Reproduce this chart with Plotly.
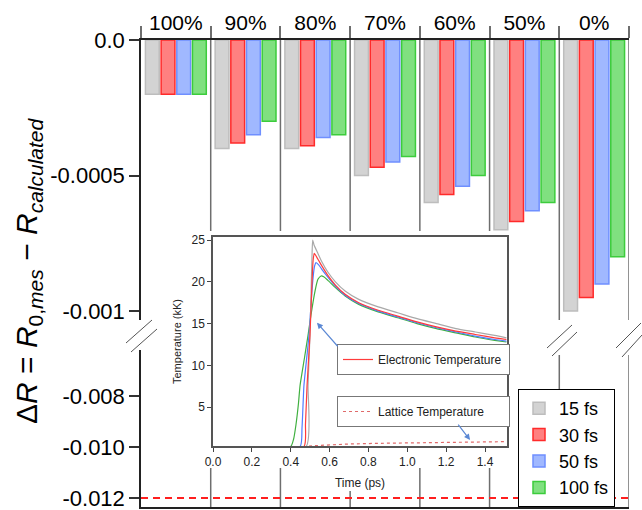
import plotly.graph_objects as go

# ---------------- data ----------------
categories = ["100%", "90%", "80%", "70%", "60%", "50%", "0%"]
pulse_labels = ["15 fs", "30 fs", "50 fs", "100 fs"]

dR_15fs = [-0.00020, -0.00040, -0.00040, -0.00050, -0.00060, -0.00070, -0.00100]
dR_30fs = [-0.00020, -0.00038, -0.00039, -0.00047, -0.00057, -0.00067, -0.00095]
dR_50fs = [-0.00020, -0.00035, -0.00036, -0.00045, -0.00054, -0.00063, -0.00090]
dR_100fs = [-0.00020, -0.00030, -0.00035, -0.00043, -0.00050, -0.00060, -0.00080]

threshold_dR = -0.012

upper_tickvals = [0.0, -0.0005, -0.001]
upper_ticktext = ["0.0", "-0.0005", "-0.001"]
lower_tickvals = [-0.008, -0.010, -0.012]
lower_ticktext = ["-0.008", "-0.010", "-0.012"]

# inset: electronic temperature (kK) vs time (ps)
t_15fs = [0.0, 0.479, 0.489, 0.499, 0.505, 0.510, 0.513, 0.52, 0.54, 0.56, 0.59, 0.63, 0.68,
          0.75, 0.85, 0.95, 1.05, 1.15, 1.25, 1.35, 1.45, 1.51]
Te_15fs = [0.3, 0.3, 7.6, 13.6, 19.0, 23.5, 25.0, 24.4, 23.4, 22.4, 21.2, 20.0, 18.9,
           17.9, 17.0, 16.3, 15.6, 15.0, 14.4, 14.0, 13.6, 13.3]

t_30fs = [0.0, 0.468, 0.476, 0.484, 0.499, 0.508, 0.515, 0.521, 0.54, 0.56, 0.59, 0.63, 0.68,
          0.75, 0.85, 0.95, 1.05, 1.15, 1.25, 1.35, 1.45, 1.51]
Te_30fs = [0.3, 0.3, 3.0, 7.6, 13.6, 19.0, 22.5, 23.4, 22.7, 21.9, 20.8, 19.6, 18.5,
           17.5, 16.6, 15.9, 15.2, 14.6, 14.1, 13.7, 13.3, 13.1]

t_50fs = [0.0, 0.448, 0.458, 0.468, 0.485, 0.494, 0.505, 0.515, 0.523, 0.53, 0.545, 0.56, 0.59,
          0.63, 0.68, 0.75, 0.85, 0.95, 1.05, 1.15, 1.25, 1.35, 1.45, 1.51]
Te_50fs = [0.3, 0.3, 2.5, 7.6, 11.5, 13.6, 17.5, 20.5, 21.9, 22.3, 22.0, 21.5, 20.6,
           19.5, 18.4, 17.4, 16.5, 15.8, 15.1, 14.5, 14.0, 13.5, 13.1, 12.9]

t_100fs = [0.0, 0.40, 0.415, 0.427, 0.44, 0.448, 0.47, 0.489, 0.504, 0.525, 0.54, 0.556, 0.57,
           0.59, 0.63, 0.68, 0.75, 0.85, 0.95, 1.05, 1.15, 1.25, 1.35, 1.45, 1.51]
Te_100fs = [0.3, 0.3, 1.2, 2.9, 5.5, 7.6, 10.8, 13.6, 16.0, 18.9, 20.3, 20.7, 20.6,
            20.2, 19.3, 18.3, 17.3, 16.4, 15.7, 15.0, 14.4, 13.9, 13.4, 13.0, 12.8]

t_lattice = [0.0, 0.48, 0.52, 0.60, 0.70, 0.85, 1.00, 1.20, 1.40, 1.51]
Tl_lattice = [0.3, 0.3, 0.40, 0.52, 0.60, 0.68, 0.74, 0.80, 0.85, 0.88]

inset_xticks = [0.0, 0.2, 0.4, 0.6, 0.8, 1.0, 1.2, 1.4]
inset_yticks = [5, 10, 15, 20, 25]

# ---------------- styling ----------------
W, H = 642, 510
FONT = "Liberation Sans, Arial, sans-serif"


def fx(px):
    return px / W


def fy(py):
    return 1 - py / H


bar_fill = ["#d3d3d3", "#ff8080", "#a0b8ff", "#80e080"]
bar_edge = ["#bdbdbd", "#ff2a2a", "#6f8fff", "#3ccc3c"]
line_cols = ["#a9a9a9", "#ff3b3b", "#4f7dff", "#3fb03f"]

fig = go.Figure()

for vals, name, fc, ec in zip([dR_15fs, dR_30fs, dR_50fs, dR_100fs], pulse_labels, bar_fill, bar_edge):
    fig.add_trace(go.Bar(
        x=categories, y=vals, name=name, xaxis="x", yaxis="y",
        marker=dict(color=fc, line=dict(color=ec, width=1.5)),
        legend="legend",
    ))

# inset curves (draw order: green, blue, grey, red on top)
series = [(t_100fs, Te_100fs, line_cols[3]), (t_50fs, Te_50fs, line_cols[2]),
          (t_15fs, Te_15fs, line_cols[0])]
for tt, TT, c in series:
    fig.add_trace(go.Scatter(x=tt, y=TT, mode="lines", xaxis="x3", yaxis="y3",
                             line=dict(color=c, width=1.2, shape="spline", smoothing=0.5),
                             showlegend=False, hoverinfo="skip"))
fig.add_trace(go.Scatter(x=t_30fs, y=Te_30fs, mode="lines", xaxis="x3", yaxis="y3",
                         name="Electronic Temperature", legend="legend2",
                         line=dict(color=line_cols[1], width=1.2, shape="spline", smoothing=0.5)))
fig.add_trace(go.Scatter(x=t_lattice, y=Tl_lattice, mode="lines", xaxis="x3", yaxis="y3",
                         name="Lattice Temperature", legend="legend3",
                         line=dict(color="#e06a6a", width=1.2, dash="dot")))

# ---------------- shapes ----------------
shapes = []
sep_col = "#6e6e6e"
boundaries = [i + 0.5 for i in range(len(categories))]
for k, b in enumerate(boundaries):
    long_line = k >= len(categories) - 2
    # upper section
    shapes.append(dict(type="line", xref="x", yref="paper", x0=b, x1=b,
                       y0=fy(40), y1=fy(320 if long_line else 231),
                       line=dict(color=sep_col, width=1.5), layer="below"))
    # lower section
    if long_line:
        top = 355
    elif k == 2:
        top = 491
    else:
        top = 468
    shapes.append(dict(type="line", xref="x", yref="paper", x0=b, x1=b,
                       y0=fy(507), y1=fy(top),
                       line=dict(color=sep_col, width=1.5), layer="below"))

# threshold line
shapes.append(dict(type="line", xref="x2 domain", yref="y2", x0=0, x1=1,
                   y0=threshold_dR, y1=threshold_dR,
                   line=dict(color="#ff1f1f", width=2, dash="7px,5px")))

# axis break marks
brk = dict(color="#555555", width=1)
for (x0, y0, x1, y1) in [(126, 343, 152, 320), (131, 352, 157, 329),
                         (547, 348, 572, 325), (552, 356, 577, 332),
                         (616, 348, 641, 323), (622, 357, 642, 335)]:
    shapes.append(dict(type="line", xref="paper", yref="paper",
                       x0=fx(x0), y0=fy(y0), x1=fx(x1), y1=fy(y1), line=brk))

main_tickfont = dict(size=22, family=FONT, color="black")
inset_tickfont = dict(size=12, family=FONT, color="#222222")

fig.update_layout(
    width=W, height=H,
    margin=dict(l=0, r=0, t=0, b=0, autoexpand=False),
    paper_bgcolor="white", plot_bgcolor="white",
    font=dict(family=FONT, color="black"),
    barmode="group", bargap=0.1, bargroupgap=0.12,
    shapes=shapes,
    xaxis=dict(
        domain=[fx(141), fx(629)], anchor="y", side="top", type="category",
        range=[-0.5, len(categories) - 0.5],
        showline=True, linecolor="#222222", linewidth=1.5,
        ticks="outside", tickson="boundaries", ticklen=12, tickwidth=1.5, tickcolor=sep_col,
        tickfont=dict(size=21, family=FONT, color="black"), ticklabeloverflow="allow",
        showgrid=False, zeroline=False, fixedrange=True,
    ),
    xaxis2=dict(
        domain=[fx(141), fx(629)], anchor="y2", matches="x", type="category",
        showline=True, linecolor="#222222", linewidth=1.5,
        showticklabels=False, ticks="", showgrid=False, zeroline=False,
    ),
    yaxis=dict(
        domain=[fy(320), fy(40)], anchor="x",
        range=[-0.001 * (320 - 40) / (311 - 40), 0],
        tickvals=upper_tickvals, ticktext=upper_ticktext,
        ticks="outside", ticklen=10, tickwidth=1.5, tickcolor="#333333",
        tickfont=main_tickfont, ticklabeloverflow="allow",
        showline=True, linecolor="#222222", linewidth=1.5,
        showgrid=False, zeroline=False,
    ),
    yaxis2=dict(
        domain=[fy(507), fy(350)], anchor="x2",
        range=[-0.012 - 9 / 25.5e3, -0.008 + 46 / 25.5e3],
        tickvals=lower_tickvals, ticktext=lower_ticktext,
        ticks="outside", ticklen=10, tickwidth=1.5, tickcolor="#333333",
        tickfont=main_tickfont, ticklabeloverflow="allow",
        showline=True, linecolor="#222222", linewidth=1.5,
        showgrid=False, zeroline=False,
    ),
    xaxis3=dict(
        domain=[fx(213), fx(507)], anchor="y3", range=[0, 1.513],
        tickvals=inset_xticks, tickformat=".1f",
        ticks="outside", ticklen=4, tickcolor="#444444",
        tickfont=inset_tickfont, ticklabeloverflow="allow",
        showline=True, mirror=True, linecolor="#555555", linewidth=1.5,
        showgrid=False, zeroline=False,
        title=dict(text="Time (ps)", font=dict(size=12, family=FONT, color="#222222"), standoff=10),
    ),
    yaxis3=dict(
        domain=[fy(446), fy(237)], anchor="x3", range=[0.36, 25.36],
        tickvals=inset_yticks,
        ticks="outside", ticklen=4, tickcolor="#444444",
        tickfont=inset_tickfont, ticklabeloverflow="allow",
        showline=True, mirror=True, linecolor="#555555", linewidth=1.5,
        showgrid=False, zeroline=False,
        title=dict(text="Temperature (kK)", font=dict(size=11, family=FONT, color="#222222"), standoff=8),
    ),
    legend=dict(
        x=fx(518), y=fy(389), xanchor="left", yanchor="top",
        bgcolor="white", bordercolor="black", borderwidth=1,
        font=dict(size=18, family=FONT, color="black"), traceorder="normal",
    ),
    legend2=dict(
        x=fx(337), y=fy(344), xanchor="left", yanchor="top", orientation="h",
        entrywidth=126, entrywidthmode="pixels",
        bgcolor="white", bordercolor="#777777", borderwidth=1,
        font=dict(size=12, family=FONT, color="#222222"), itemwidth=30,
    ),
    legend3=dict(
        x=fx(337), y=fy(396), xanchor="left", yanchor="top", orientation="h",
        entrywidth=126, entrywidthmode="pixels",
        bgcolor="white", bordercolor="#777777", borderwidth=1,
        font=dict(size=12, family=FONT, color="#222222"), itemwidth=30,
    ),
    annotations=[
        dict(text="Δ<i>R</i> = <i>R</i><sub>0,<i>mes</i></sub> − <i>R</i><sub><i>calculated</i></sub>",
             xref="paper", yref="paper", x=fx(28), y=fy(271), textangle=-90,
             showarrow=False, xanchor="center", yanchor="middle",
             font=dict(size=30, family=FONT, color="black")),
        dict(text="", xref="x3", yref="y3", x=0.535, y=15.1, ax=22, ay=25,
             showarrow=True, arrowhead=2, arrowsize=1, arrowwidth=1.2, arrowcolor="#5b88d4"),
        dict(text="", xref="x3", yref="y3", x=1.323, y=1.07, ax=-13, ay=-17,
             showarrow=True, arrowhead=2, arrowsize=1, arrowwidth=1.2, arrowcolor="#5b88d4"),
    ],
)

fig.write_html("out.html")
